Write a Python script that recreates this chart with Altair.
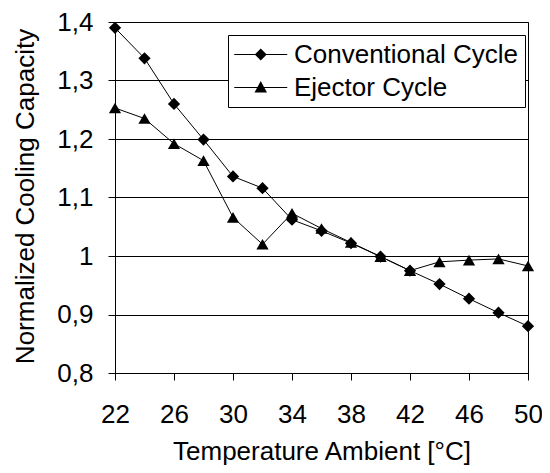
import altair as alt
import pandas as pd

temps = [22, 24, 26, 28, 30, 32, 34, 36, 38, 40, 42, 44, 46, 48, 50]
conventional = [1.390, 1.338, 1.260, 1.199, 1.136, 1.116, 1.062, 1.043, 1.022, 0.999, 0.975, 0.952, 0.927, 0.903, 0.880]
ejector = [1.253, 1.235, 1.192, 1.163, 1.066, 1.020, 1.073, 1.047, 1.023, 0.999, 0.975, 0.990, 0.993, 0.995, 0.983]
series_names = ["Conventional Cycle", "Ejector Cycle"]
x_ticks = [22, 26, 30, 34, 38, 42, 46, 50]
y_ticks = [0.8, 0.9, 1.0, 1.1, 1.2, 1.3, 1.4]

rows = []
for name, vals in zip(series_names, [conventional, ejector]):
    for t, v in zip(temps, vals):
        rows.append({"temp": t, "value": v, "series": name})
df = pd.DataFrame(rows)

FONT = "Liberation Sans"
FS = 26

x_enc = alt.X("temp:Q",
              scale=alt.Scale(domain=[22, 50], nice=False, zero=False),
              axis=alt.Axis(values=x_ticks, title="Temperature Ambient [°C]",
                            grid=False, domainColor="black", tickColor="black",
                            tickSize=7, labelPadding=21, labelFontSize=FS,
                            labelFont=FONT, labelColor="black",
                            titleFontSize=FS, titleFont=FONT, titleColor="black",
                            titleFontWeight="normal", titleBaseline="alphabetic",
                            titleY=86, labelFlush=False))
y_enc = alt.Y("value:Q",
              scale=alt.Scale(domain=[0.8, 1.4], nice=False, zero=False),
              axis=alt.Axis(values=y_ticks, title="Normalized Cooling Capacity",
                            labelExpr="abs(datum.value - 1) < 1e-9 ? '1' : replace(format(datum.value, '.1f'), '.', ',')",
                            grid=True, gridColor="black", gridWidth=1, gridOpacity=1,
                            domainColor="black", tickColor="black", tickSize=7,
                            labelPadding=15, labelFontSize=FS, labelFont=FONT,
                            labelColor="black", titleFontSize=FS, titleFont=FONT,
                            titleColor="black", titleFontWeight="normal",
                            titleBaseline="alphabetic", titleX=-82, titleY=174,
                            titleAlign="center", labelFlush=False))

lines = alt.Chart(df).mark_line(color="black", strokeWidth=1).encode(
    x=x_enc, y=y_enc, detail="series:N")

points = alt.Chart(df).mark_point(filled=True, color="black", opacity=1, size=150).encode(
    x=x_enc, y=y_enc,
    shape=alt.Shape("series:N",
                    scale=alt.Scale(domain=series_names, range=["diamond", "triangle-up"]),
                    legend=None))

# legend glyphs: a thin bar (the line) with the marker in the middle
diamond_path = "M-1,-0.04H3V0.04H-1Z M1,-0.45L1.45,0L1,0.45L0.55,0Z"
triangle_path = "M-1,-0.04H3V0.04H-1Z M1,-0.5L1.47,0.38L0.53,0.38Z"

legend_layer = alt.Chart(df).mark_point(filled=True, color="black", opacity=0, size=702).encode(
    x=x_enc, y=y_enc,
    shape=alt.Shape("series:N",
                    scale=alt.Scale(domain=series_names, range=[diamond_path, triangle_path]),
                    legend=alt.Legend(orient="none", legendX=113, legendY=13, title=None,
                                      strokeColor="black", fillColor="white", padding=6,
                                      cornerRadius=0, labelFont=FONT, labelFontSize=FS,
                                      labelColor="black", labelOffset=33, labelLimit=400,
                                      symbolOpacity=1, symbolFillColor="black",
                                      symbolStrokeColor="black", symbolStrokeWidth=0,
                                      symbolSize=702, rowPadding=6)))

chart = alt.layer(lines, points, legend_layer).resolve_scale(shape="independent").properties(
    width=413, height=351,
    autosize=alt.AutoSizeParams(type="none"),
    padding={"left": 107, "top": 14, "right": 14, "bottom": 92},
    background="white",
).configure_view(stroke="black", strokeWidth=1)

chart.save("out.html", embed_options={"renderer": "svg", "actions": False})
